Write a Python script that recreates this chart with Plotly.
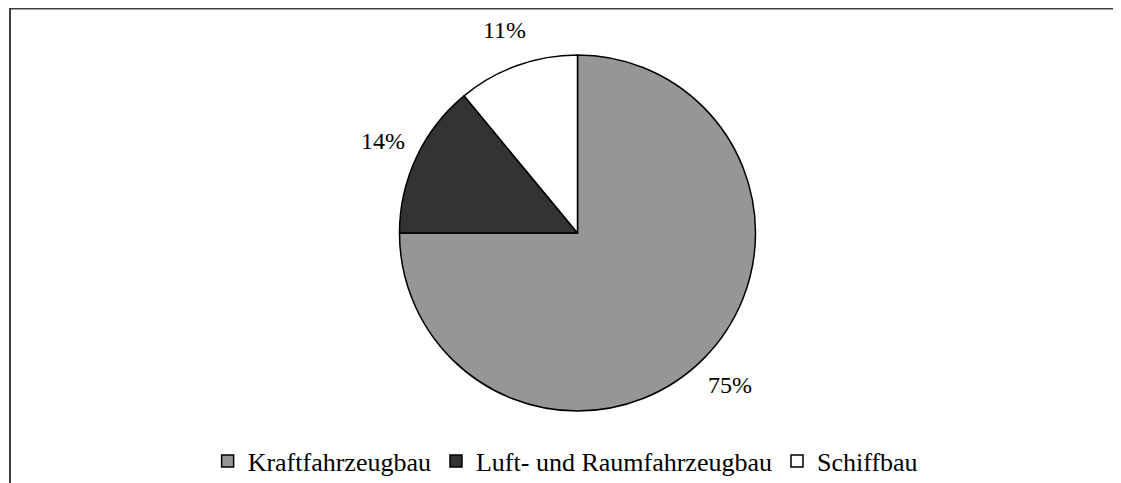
import math
import plotly.graph_objects as go

categories = ["Kraftfahrzeugbau", "Luft- und Raumfahrzeugbau", "Schiffbau"]
values = [75, 14, 11]
colors = ["#969696", "#333333", "#ffffff"]

W, H = 1121, 483
cx, cy, r = 569.5, 225, 178   # pie centre / radius in paper pixels
label_r = 1.21 * r
FONT = "Liberation Serif"

fig = go.Figure(go.Pie(
    labels=categories,
    values=values,
    sort=False,
    direction="clockwise",
    rotation=0,
    marker=dict(colors=colors, line=dict(color="black", width=1.5)),
    textinfo="none",
    domain=dict(x=[(cx - r) / W, (cx + r) / W], y=[1 - (cy + r) / H, 1 - (cy - r) / H]),
    hoverinfo="label+percent",
    showlegend=True,
))

# percentage labels placed outside each slice at its mid-angle
total = sum(values)
annotations = []
cum = 0
for v in values:
    mid = (cum + v / 2) / total * 2 * math.pi
    cum += v
    px = cx + label_r * math.sin(mid)
    py = cy - label_r * math.cos(mid)
    annotations.append(dict(
        x=px / W, y=1 - py / H, xref="paper", yref="paper",
        text=f"{round(v / total * 100)}%", showarrow=False,
        xanchor="center", yanchor="middle",
        font=dict(family=FONT, size=24, color="black"),
    ))

fig.update_layout(
    width=W, height=H,
    margin=dict(l=0, r=0, t=0, b=0),
    paper_bgcolor="white",
    plot_bgcolor="white",
    font=dict(family=FONT, size=24, color="black"),
    annotations=annotations,
    legend=dict(orientation="h", x=0.497, xanchor="center", y=(H - 453) / H, yanchor="middle",
                font=dict(family=FONT, size=26, color="black"),
                itemwidth=30, tracegroupgap=0),
    shapes=[
        dict(type="line", xref="paper", yref="paper", x0=1 / W, x1=1.0, y0=1 - 0.5 / H, y1=1 - 0.5 / H,
             line=dict(color="#404040", width=2)),
        dict(type="line", xref="paper", yref="paper", x0=2 / W, x1=2 / W, y0=1, y1=0,
             line=dict(color="#404040", width=2)),
    ],
)

fig.write_html("out.html")
